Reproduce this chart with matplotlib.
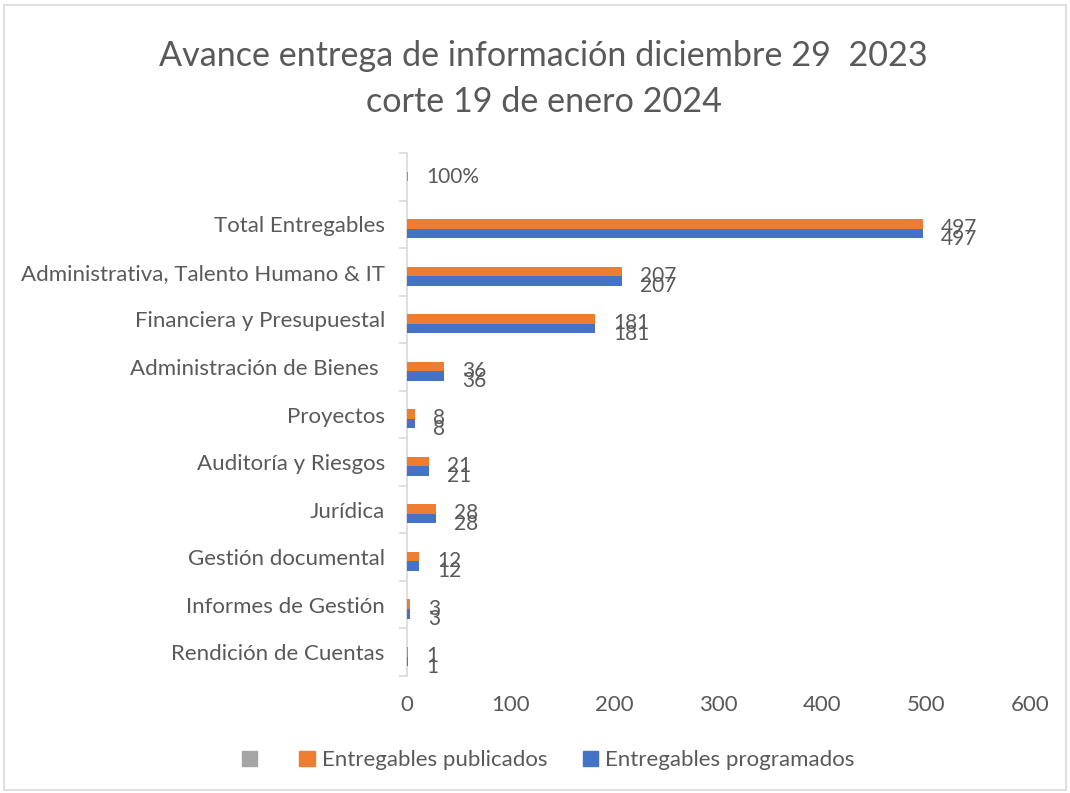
import matplotlib
matplotlib.use("Agg")
import matplotlib.pyplot as plt
from matplotlib.patches import Patch, Rectangle

plt.rcParams['font.family'] = ['Lato', 'DejaVu Sans']

categories = ["Rendición de Cuentas", "Informes de Gestión", "Gestión documental",
              "Jurídica", "Auditoría y Riesgos", "Proyectos",
              "Administración de Bienes ", "Financiera y Presupuestal",
              "Administrativa, Talento Humano & IT", "Total Entregables", ""]
publicados = [1, 3, 12, 28, 21, 8, 36, 181, 207, 497, 1]
programados = [1, 3, 12, 28, 21, 8, 36, 181, 207, 497, 0]
pub_labels = ["1", "3", "12", "28", "21", "8", "36", "181", "207", "497", "100%"]
prog_labels = ["1", "3", "12", "28", "21", "8", "36", "181", "207", "497", ""]
xticks = [0, 100, 200, 300, 400, 500, 600]

ORANGE = "#ED7D31"
BLUE = "#4472C4"
GRAY = "#A5A5A5"
TXT = "#595959"

fig = plt.figure(figsize=(10.70, 7.93), dpi=100)
fig.patches.append(Rectangle((0.004, 0.004), 0.992, 0.99, transform=fig.transFigure,
                             fill=False, edgecolor="#D9D9D9", linewidth=1.2))
ax = fig.add_axes([0.3804, 0.1475, 0.5822, 0.6595])

n = len(categories)
ys = list(range(n))
h = 0.2
ax.barh([y + h / 2 - 0.09 for y in ys], publicados, height=h, color=ORANGE, zorder=3)
ax.barh([y - h / 2 - 0.09 for y in ys], programados, height=h, color=BLUE, zorder=3)

for y, v, lab in zip(ys, publicados, pub_labels):
    if lab:
        dy = -0.08 if lab != "100%" else 0.0
        ax.annotate(lab, (v, y + dy), xytext=(13, 0), textcoords="offset points",
                    va="center", ha="left", fontsize=15, color=TXT)
for y, v, lab in zip(ys, programados, prog_labels):
    if lab:
        ax.annotate(lab, (v, y - 0.30), xytext=(13, 0), textcoords="offset points",
                    va="center", ha="left", fontsize=15, color=TXT)

ax.set_xlim(0, 600)
ax.set_ylim(-0.5, n - 0.5)
ax.set_xticks(xticks)
ax.set_xticklabels([str(t) for t in xticks])
ax.set_yticks(ys)
ax.set_yticklabels(categories)
ax.set_yticks([y - 0.5 for y in range(n + 1)], minor=True)
ax.tick_params(axis="y", which="major", length=0, pad=16, labelsize=16, labelcolor=TXT)
ax.tick_params(axis="y", which="minor", length=6, color="#D9D9D9", width=1.2)
ax.tick_params(axis="x", length=0, pad=14, labelsize=16, labelcolor=TXT)
for s in ["top", "right", "bottom"]:
    ax.spines[s].set_visible(False)
ax.spines["left"].set_color("#D9D9D9")
ax.spines["left"].set_linewidth(1.2)

fig.text(0.508, 0.930, "Avance entrega de información diciembre 29  2023",
         ha="center", va="center", fontsize=24.6, color=TXT)
fig.text(0.508, 0.871, "corte 19 de enero 2024",
         ha="center", va="center", fontsize=24.6, color=TXT)

handles = [Patch(color=GRAY), Patch(color=ORANGE), Patch(color=BLUE)]
labels = ["", "Entregables publicados", "Entregables programados"]
fig.legend(handles, labels, loc="center", bbox_to_anchor=(0.512, 0.041), ncol=3,
           frameon=False, fontsize=16, handlelength=0.7, handleheight=0.7,
           handletextpad=0.3, columnspacing=1.6, labelcolor=TXT)

fig.savefig("out.png", dpi=100)
